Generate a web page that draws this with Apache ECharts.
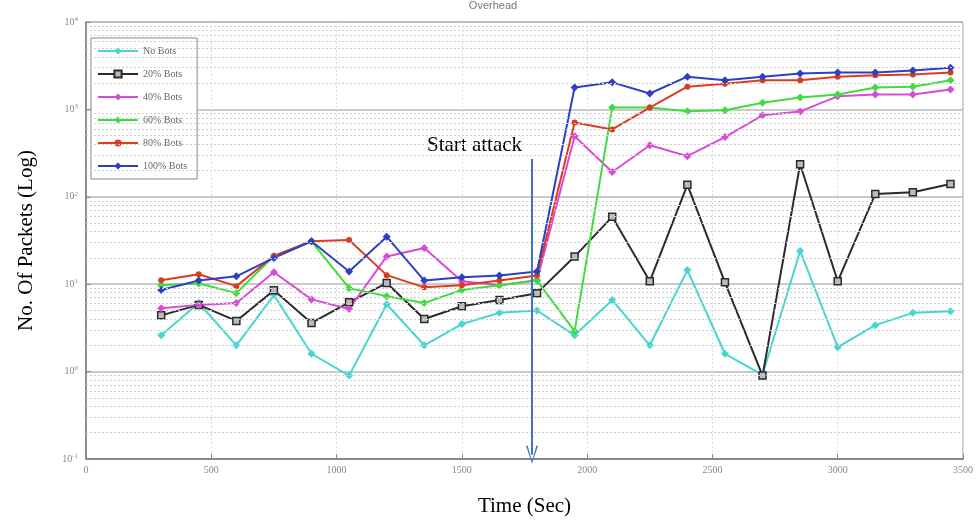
<!DOCTYPE html>
<html>
<head>
<meta charset="utf-8">
<script src="https://cdn.jsdelivr.net/npm/echarts@6/dist/echarts.min.js"></script>
<style>
  html, body { margin: 0; padding: 0; background: #fff; }
  #chart { width: 976px; height: 522px; }
</style>
</head>
<body>
<div id="chart"></div>
<script>
// time of each sample (sec)
var times = [300, 450, 600, 750, 900, 1050, 1200, 1350, 1500, 1650, 1800,
  1950, 2100, 2250, 2400, 2550, 2700, 2850, 3000, 3150, 3300, 3450]

var noBots = [2.6, 6.1, 2.0, 7.5, 1.6, 0.9, 5.9, 2.0, 3.5, 4.7, 5.0,
  2.6, 6.6, 2.0, 14.5, 1.6, 0.92, 24, 1.9, 3.4, 4.7, 4.9]
var bots20 = [4.4, 5.8, 3.8, 8.5, 3.6, 6.2, 10.3, 4.0, 5.6, 6.6, 7.9,
  20.7, 59, 10.8, 137, 10.5, 0.9, 236, 10.8, 108, 113, 140]
var bots40 = [5.3, 5.8, 6.1, 13.7, 6.7, 5.2, 20.8, 26, 10.8, 9.7, 11.1,
  493, 192, 389, 292, 482, 855, 949, 1410, 1480, 1480, 1690]
var bots60 = [9.7, 10.2, 7.9, 21, 31, 9.0, 7.3, 6.1, 8.6, 9.7, 11,
  2.9, 1050, 1050, 950, 980, 1190, 1370, 1480, 1780, 1820, 2150]
var bots80 = [11.1, 13, 9.5, 21, 31, 32, 12.7, 9.2, 9.7, 11, 12.6,
  710, 590, 1050, 1820, 1970, 2150, 2150, 2370, 2460, 2500, 2640]
var bots100 = [8.6, 11, 12.3, 20, 31, 14, 35, 11, 12, 12.6, 14,
  1780, 2040, 1520, 2370, 2150, 2370, 2570, 2640, 2650, 2780, 3000]

var seriesNames = ['No Bots', '20% Bots', '40% Bots', '60% Bots', '80% Bots', '100% Bots']
var seriesValues = [noBots, bots20, bots40, bots60, bots80, bots100]
var seriesColors = ['#45d6cf', '#2b2b2b', '#d94ad9', '#3fdc3f', '#dc3b22', '#2f3fc4']
var seriesSymbols = ['diamond', 'rect', 'diamond', 'diamond', 'circle', 'diamond']

var attackTime = 1780

// minor log grid lines (2..9 in each decade)
var minorLines = []
for (var k = -1; k < 4; k++) {
  for (var m = 2; m < 10; m++) {
    minorLines.push({ yAxis: m * Math.pow(10, k) })
  }
}

function pairs (vals) {
  return vals.map(function (v, i) { return [times[i], v] })
}

var series = seriesNames.map(function (name, i) {
  return {
    name: name,
    type: 'line',
    data: pairs(seriesValues[i]),
    symbol: seriesSymbols[i],
    symbolSize: i === 1 ? 7 : (i === 4 ? 6 : 8),
    showSymbol: true,
    lineStyle: { width: 2, color: seriesColors[i] },
    itemStyle: i === 1
      ? { color: '#bbb', borderColor: '#2b2b2b', borderWidth: 1.5 }
      : { color: seriesColors[i] },
    z: 3
  }
})

// helper series: minor grid and attack arrow
series.push({
  name: 'helper',
  type: 'line',
  data: [],
  silent: true,
  markLine: {
    silent: true,
    symbol: 'none',
    label: { show: false },
    animation: false,
    lineStyle: { color: '#cfcfcf', type: [2, 2], width: 1 },
    data: minorLines.concat([[
      { coord: [attackTime, 270], symbol: 'none',
        lineStyle: { color: '#4472c4', type: 'solid', width: 2 } },
      { coord: [attackTime, 0.112],
        symbol: 'path://M0,12 L1.4,12 L5,1.8 L8.6,12 L10,12 L5,0 Z',
        symbolSize: [12, 18] }
    ]])
  },
  z: 4
})

var chart = echarts.init(document.getElementById('chart'))
chart.setOption({
  animation: false,
  title: {
    text: 'Overhead',
    left: 488,
    top: -5,
    textAlign: 'center',
    textStyle: { fontSize: 11, color: '#777', fontWeight: 'normal', fontFamily: 'Liberation Sans' }
  },
  grid: { left: 86, right: 10, top: 22, bottom: 60, show: true, borderColor: '#999', borderWidth: 1 },
  legend: {
    data: seriesNames,
    orient: 'vertical',
    left: 91,
    top: 38,
    backgroundColor: '#fff',
    borderColor: '#888',
    borderWidth: 1,
    padding: [8, 10, 8, 6],
    itemWidth: 40,
    itemHeight: 9,
    itemGap: 13,
    textStyle: { fontSize: 10, color: '#666', fontFamily: 'Liberation Sans Narrow' }
  },
  graphic: [
    {
      type: 'text',
      left: 427,
      top: 135,
      style: { text: 'Start attack', fontSize: 21, fill: '#000', fontFamily: 'Liberation Serif' }
    }
  ],
  xAxis: {
    type: 'value',
    min: 0,
    max: 3500,
    interval: 500,
    name: 'Time (Sec)',
    nameLocation: 'middle',
    nameGap: 37,
    nameTextStyle: { fontSize: 21, color: '#000', fontFamily: 'Liberation Serif' },
    axisLine: { lineStyle: { color: '#777', width: 1.5 } },
    axisTick: { inside: true, length: 5, lineStyle: { color: '#888' } },
    axisLabel: {
      fontSize: 10, color: '#888', fontFamily: 'Liberation Sans Narrow', margin: 6,
      formatter: function (v) { return String(v) }
    },
    splitLine: { show: true, lineStyle: { color: '#e0e0e0', type: [2, 2] } }
  },
  yAxis: {
    type: 'log',
    logBase: 10,
    min: 0.1,
    max: 10000,
    name: 'No. Of Packets (Log)',
    nameLocation: 'middle',
    nameGap: 49,
    nameTextStyle: { fontSize: 21, color: '#000', fontFamily: 'Liberation Serif' },
    axisLine: { show: true, lineStyle: { color: '#777', width: 1.5 } },
    axisTick: { inside: true, length: 5, lineStyle: { color: '#888' } },
    axisLabel: {
      color: '#888',
      margin: 8,
      formatter: function (v) {
        var e = Math.round(Math.log(v) / Math.LN10)
        return '{b|10}{s|' + e + '}'
      },
      rich: {
        b: { fontSize: 10, color: '#888', fontFamily: 'Liberation Sans Narrow' },
        s: { fontSize: 7, color: '#888', verticalAlign: 'top', padding: [0, 0, 6, 0], fontFamily: 'Liberation Sans Narrow' }
      }
    },
    splitLine: { show: true, lineStyle: { color: '#b8b8b8', width: 1.5 } }
  },
  series: series
})
</script>
</body>
</html>
